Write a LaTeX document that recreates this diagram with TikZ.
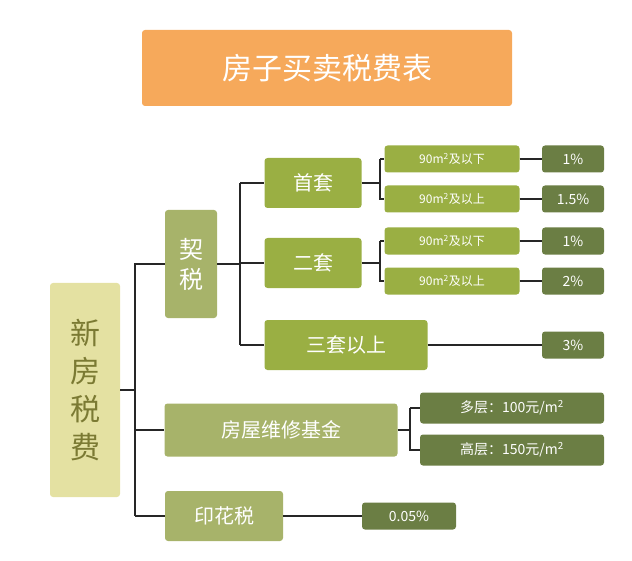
\documentclass[tikz,border=0pt]{standalone}
\usepackage{fontspec}
\setmainfont{Noto Sans CJK SC}
\usetikzlibrary{positioning}
\definecolor{titleorange}{HTML}{F6A95B}
\definecolor{rootfill}{HTML}{E4E1A2}
\definecolor{roottext}{HTML}{7B7A33}
\definecolor{lvlone}{HTML}{A7B36A}
\definecolor{lvltwo}{HTML}{9AAF43}
\definecolor{rate}{HTML}{6B7E44}
\tikzset{
  box/.style={rounded corners=3bp,text=white,inner sep=0pt,align=center},
  catbox/.style={box,fill=lvltwo,font=\fontsize{20bp}{22bp}\selectfont},
  sizebox/.style={box,fill=lvltwo,minimum width=135bp,minimum height=27bp,font=\fontsize{12bp}{14bp}\selectfont},
  ratebox/.style={box,fill=rate,minimum width=62bp,minimum height=27bp,font=\fontsize{14bp}{16bp}\selectfont},
  link/.style={line width=1.2bp,black!85}
}
\begin{document}
\begin{tikzpicture}[x=1bp,y=-1bp]
\useasboundingbox (0,0) rectangle (632,561);

\node (title) at (327,68)[box,fill=titleorange,minimum width=370bp,minimum height=76bp,font=\fontsize{30bp}{32bp}\selectfont] {房子买卖税费表};
\node (root) at (85,390)[box,fill=rootfill,text=roottext,minimum width=70bp,minimum height=214bp,font=\fontsize{30bp}{38bp}\selectfont] {新\\房\\税\\费};
\node (qishui) at (191,264)[box,fill=lvlone,minimum width=52bp,minimum height=108bp,font=\fontsize{24bp}{30bp}\selectfont] {契\\税};
\node (first) at (313,183)[catbox,minimum width=97bp,minimum height=50bp] {首套};
\node (second) at (313,263)[catbox,minimum width=97bp,minimum height=50bp] {二套};
\node (third) at (346,345)[catbox,minimum width=163bp,minimum height=50bp] {三套以上};
\node (fund) at (281,430)[catbox,fill=lvlone,minimum width=233bp,minimum height=53bp] {房屋维修基金};
\node (stamp) at (224,516)[catbox,fill=lvlone,minimum width=118bp,minimum height=50bp] {印花税};

\node (fa) at (452,159)[sizebox] {90m\textsuperscript{2}及以下};
\node (fb) at (452,199)[sizebox] {90m\textsuperscript{2}及以上};
\node (sa) at (452,241)[sizebox] {90m\textsuperscript{2}及以下};
\node (sb) at (452,281)[sizebox] {90m\textsuperscript{2}及以上};
\node (ra) at (573,159)[ratebox] {1\%};
\node (rb) at (573,199)[ratebox] {1.5\%};
\node (rc) at (573,241)[ratebox] {1\%};
\node (rd) at (573,281)[ratebox] {2\%};
\node (re) at (573,345)[ratebox] {3\%};
\node (multi) at (512,408)[ratebox,minimum width=184bp,minimum height=31bp] {多层：100元/m\textsuperscript{2}};
\node (high) at (512,450)[ratebox,minimum width=184bp,minimum height=31bp] {高层：150元/m\textsuperscript{2}};
\node (stamprate) at (409,516)[ratebox,minimum width=94bp] {0.05\%};

% trunk
\draw[link] (root.east) -- (135,390);
\draw[link] (135,263) -- (135,516);
\draw[link] (135,264) -- (qishui.west);
\draw[link] (135,430) -- (fund.west);
\draw[link] (135,516) -- (stamp.west);
% deed tax
\draw[link] (qishui.east) -- (240,264);
\draw[link] (240,183) -- (240,345);
\draw[link] (240,183) -- (first.west);
\draw[link] (240,263) -- (second.west);
\draw[link] (240,345) -- (third.west);
\draw[link] (first.east) -- (380,183);
\draw[link] (380,159) -- (fa.west);
\draw[link] (380,159) |- (fb.west);
\draw[link] (second.east) -- (380,263);
\draw[link] (380,241) -- (sa.west);
\draw[link] (380,241) |- (sb.west);
\draw[link] (fa) -- (ra);
\draw[link] (fb) -- (rb);
\draw[link] (sa) -- (rc);
\draw[link] (sb) -- (rd);
\draw[link] (third) -- (re);
% fund
\draw[link] (fund.east) -- (410,430);
\draw[link] (410,408) -- (multi.west);
\draw[link] (410,408) |- (high.west);
\draw[link] (stamp) -- (stamprate);
\end{tikzpicture}
\end{document}
